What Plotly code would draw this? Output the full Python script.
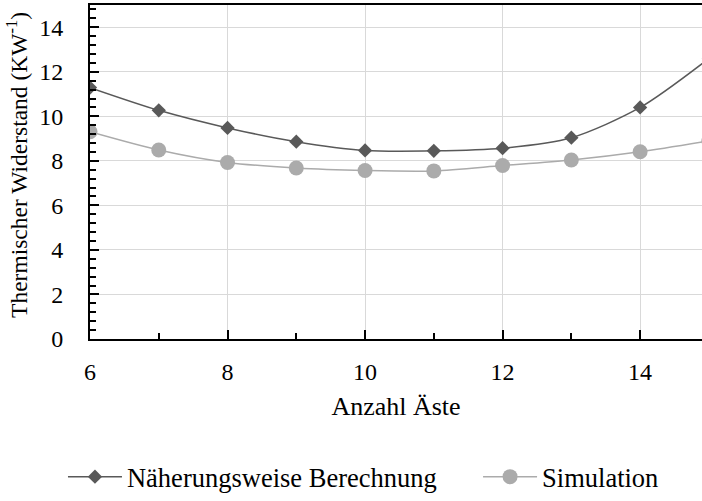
import plotly.graph_objects as go

# Anzahl der Äste und thermischer Widerstand (K/W)
aeste = [6, 7, 8, 9, 10, 11, 12, 13, 14, 15]
naeherung = [11.29, 10.27, 9.48, 8.86, 8.47, 8.45, 8.57, 9.04, 10.40, 12.60]
simulation = [9.31, 8.49, 7.93, 7.68, 7.57, 7.55, 7.79, 8.04, 8.41, 8.90]

FONT = "Liberation Serif"
BLACK = "#000000"
DARK = "#595959"
LIGHT = "#ababab"
GRID = "#d9d9d9"

fig = go.Figure()
fig.add_trace(go.Scatter(
    x=aeste, y=naeherung, name="Näherungsweise Berechnung", legend="legend",
    mode="lines+markers", line=dict(color=DARK, width=1.5, shape="spline", smoothing=0.8),
    marker=dict(symbol="diamond", size=11, color=DARK),
))
fig.add_trace(go.Scatter(
    x=aeste, y=simulation, name="Simulation", legend="legend2",
    mode="lines+markers", line=dict(color=LIGHT, width=1.5, shape="spline", smoothing=0.8),
    marker=dict(symbol="circle", size=15, color=LIGHT),
))

legend_style = dict(
    orientation="h", xanchor="left", xref="container",
    yref="container", y=0.048, yanchor="middle",
    font=dict(family=FONT, size=26.5, color=BLACK),
    itemwidth=54, bgcolor="rgba(0,0,0,0)",
)

fig.update_layout(
    width=702, height=501,
    margin=dict(l=90, r=0, t=5, b=162, autoexpand=False),
    paper_bgcolor="white", plot_bgcolor="white",
    font=dict(family=FONT, size=24, color=BLACK),
    showlegend=True,
    legend=dict(x=0.0897, **legend_style),
    legend2=dict(x=0.681, **legend_style),
)

# y-axis title placed as a rotated label left of the tick labels
fig.add_annotation(
    text="Thermischer Widerstand (KW<sup>-1</sup>)",
    xref="paper", yref="paper", x=-0.1193, y=0.521,
    xanchor="center", yanchor="middle", textangle=-90, showarrow=False,
    font=dict(family=FONT, size=23.5, color=BLACK),
)

fig.update_xaxes(
    range=[6, 14.9], tick0=6, dtick=2,
    showgrid=True, gridcolor=GRID, gridwidth=1.2,
    showline=True, linecolor=BLACK, linewidth=2, mirror=True,
    ticks="inside", ticklen=9, tickwidth=1.5, tickcolor=BLACK,
    tickfont=dict(family=FONT, size=24, color=BLACK),
    minor=dict(dtick=1, ticks="inside", ticklen=6, tickwidth=1.5, tickcolor=BLACK, showgrid=False),
    ticklabelstandoff=10,
    zeroline=False,
    title=dict(text="Anzahl Äste", font=dict(family=FONT, size=26, color=BLACK), standoff=13),
)
fig.update_yaxes(
    range=[0, 15], tick0=0, dtick=2,
    tickvals=[0, 2, 4, 6, 8, 10, 12, 14],
    showgrid=True, gridcolor=GRID, gridwidth=1.2,
    showline=True, linecolor=BLACK, linewidth=2, mirror=False,
    ticks="inside", ticklen=9, tickwidth=1.5, tickcolor=BLACK,
    tickfont=dict(family=FONT, size=24, color=BLACK),
    minor=dict(tick0=0, dtick=0.4, ticks="inside", ticklen=6, tickwidth=1.5, tickcolor=BLACK, showgrid=False),
    ticklabelstandoff=20,
    zeroline=False,
)

fig.write_html("out.html")
